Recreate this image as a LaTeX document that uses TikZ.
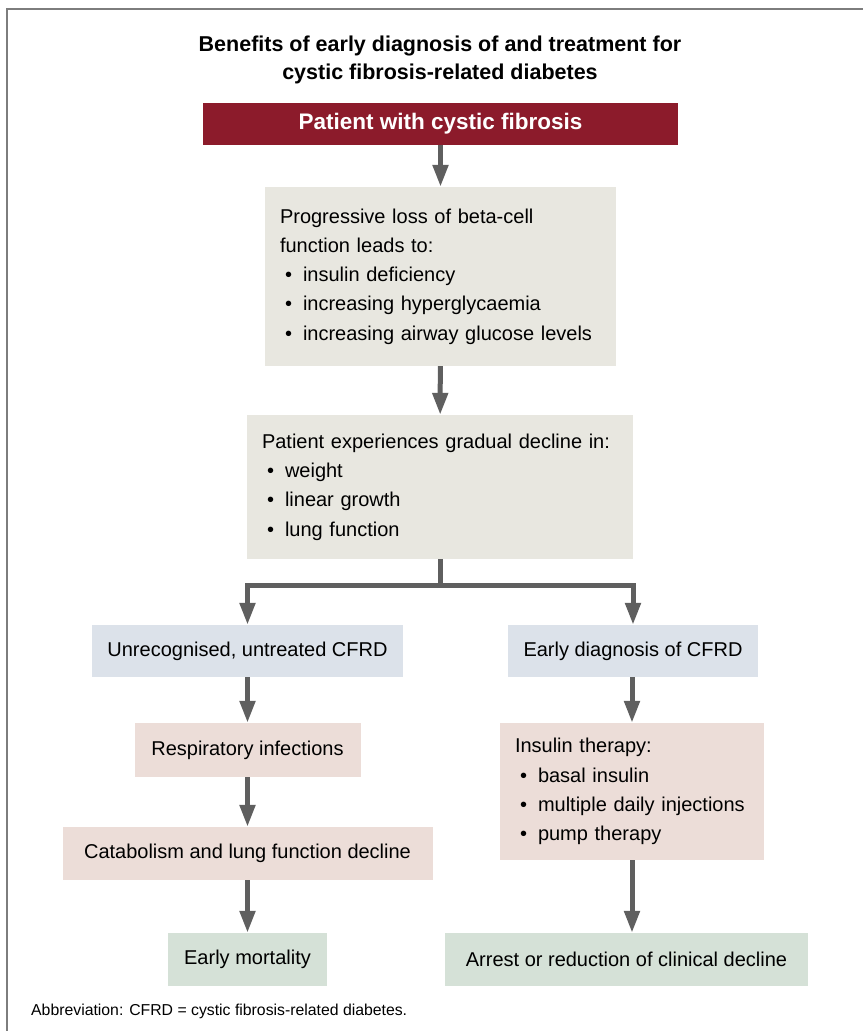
\documentclass[tikz,border=0pt]{standalone}
\usepackage{fontspec}
\setmainfont{Liberation Sans}
\usepackage{xcolor}
\definecolor{cfred}{RGB}{140,27,43}
\definecolor{cfgrey}{RGB}{232,231,224}
\definecolor{cfblue}{RGB}{220,226,234}
\definecolor{cfpink}{RGB}{236,221,216}
\definecolor{cfgreen}{RGB}{213,225,215}
\definecolor{cfarrow}{RGB}{95,95,95}
\definecolor{cfframe}{RGB}{125,125,125}
\usepackage{tikz}
\usetikzlibrary{arrows.meta,positioning}
\newcommand{\cfitem}{\\\hspace*{5pt}\textbullet\hspace{11pt}}
\tikzset{
  boxtext/.style={font=\fontsize{20}{29.3}\selectfont, inner ysep=0pt},
  listbox/.style={boxtext, inner xsep=15pt, align=left},
  flowarrow/.style={draw=cfarrow, line width=5pt, -{Triangle[length=22pt,width=15pt]}},
  flowline/.style={draw=cfarrow, line width=5pt}
}

\begin{document}
\begin{tikzpicture}[x=1pt,y=-1pt]
  \useasboundingbox (0,0) rectangle (863,1031);
  \draw[cfframe, line width=1.5pt] (7,1031) -- (7,9) -- (863,9);

  \node[font=\fontsize{21.5}{28}\selectfont\bfseries, align=center] (title) at (440,60) {Benefits of early diagnosis of and treatment for\\cystic fibrosis-related diabetes};

  % top box
  \node[fill=cfred, text=white, font=\fontsize{22.5}{26}\selectfont\bfseries, minimum width=475pt, minimum height=42pt] (patient) at (440.5,124) {Patient with cystic fibrosis};

  % grey boxes
  \node[listbox, fill=cfgrey, text width=321pt, minimum height=179pt] (betacell) at (440.5,276.5) {Progressive loss of beta-cell\\function leads to:\cfitem insulin deficiency\cfitem increasing hyperglycaemia\cfitem increasing airway glucose levels};
  \node[listbox, fill=cfgrey, text width=356pt, minimum height=144pt] (decline) at (440,487) {Patient experiences gradual decline in:\cfitem weight\cfitem linear growth\cfitem lung function};
  \coordinate (split) at (440,585);

  % left branch
  \node[boxtext, fill=cfblue, minimum width=311pt, minimum height=52pt] (untreated) at (247.5,651) {Unrecognised, untreated CFRD};
  \node[boxtext, fill=cfpink, minimum width=226pt, minimum height=54pt] (infections) at (247.5,750) {Respiratory infections};
  \node[boxtext, fill=cfpink, minimum width=370pt, minimum height=53pt] (catabolism) at (247.5,853.5) {Catabolism and lung function decline};
  \node[boxtext, fill=cfgreen, minimum width=159pt, minimum height=53pt] (mortality) at (247.5,959.5) {Early mortality};

  % right branch
  \node[boxtext, fill=cfblue, minimum width=250pt, minimum height=52pt] (diagnosis) at (633,651) {Early diagnosis of CFRD};
  \node[listbox, fill=cfpink, text width=234pt, minimum height=137pt] (insulin) at (632,791.5) {Insulin therapy:\cfitem basal insulin\cfitem multiple daily injections\cfitem pump therapy};
  \node[boxtext, fill=cfgreen, minimum width=363pt, minimum height=53pt] (arrest) at (626.5,959.5) {Arrest or reduction of clinical decline};

  \node[font=\fontsize{15.8}{18}\selectfont, anchor=west, inner sep=0pt] (abbrev) at (31,1011) {Abbreviation: CFRD = cystic fibrosis-related diabetes.};

  % connectors
  \draw[flowarrow] (patient) -- (betacell);
  \draw[flowarrow] (betacell) -- (decline);
  \draw[flowline] (decline) -- (split);
  \draw[flowarrow] (split) -| (untreated);
  \draw[flowarrow] (split) -| (diagnosis);
  \draw[flowarrow] (untreated) -- (infections);
  \draw[flowarrow] (infections) -- (catabolism);
  \draw[flowarrow] (catabolism) -- (mortality);
  \draw[flowarrow] (diagnosis.south -| insulin.north) -- (insulin);
  \draw[flowarrow] (insulin.south) -- (insulin.south |- arrest.north);
\end{tikzpicture}
\end{document}
